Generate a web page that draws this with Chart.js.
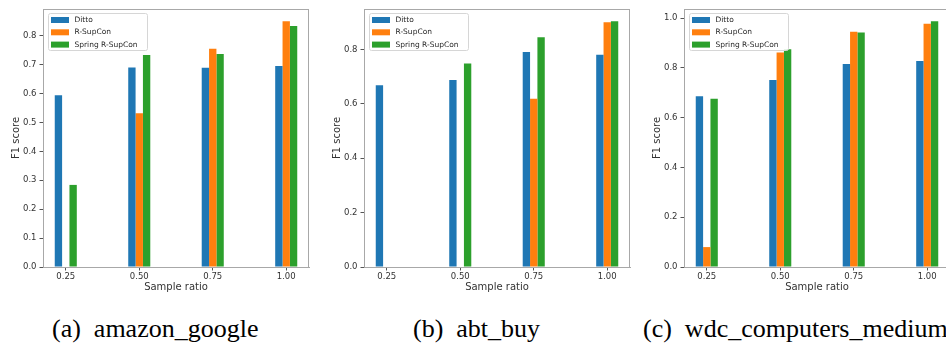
<!DOCTYPE html>
<html>
<head>
<meta charset="utf-8">
<script src="https://cdn.jsdelivr.net/npm/chart.js@4.4.0/dist/chart.umd.min.js"></script>
<style>
  body { margin: 0; width: 946px; height: 345px; overflow: hidden; background: #fff; position: relative; }
  .panel { position: absolute; top: 0; width: 316px; height: 300px; }
  .cap { position: absolute; top: 317px; font-family: "Liberation Serif", serif; font-size: 26px; line-height: 24px; white-space: pre; color: #000; }
</style>
</head>
<body>
<div class="panel" style="left:0px"><canvas id="c1" width="316" height="300"></canvas></div>
<div class="panel" style="left:321px"><canvas id="c2" width="316" height="300"></canvas></div>
<div class="panel" style="left:641px"><canvas id="c3" width="316" height="300"></canvas></div>
<div class="cap" id="t1" style="left:52px"></div>
<div class="cap" id="t2" style="left:413px"></div>
<div class="cap" id="t3" style="left:643px"></div>
<script>
// sample ratios on the x axis
const ratios = [0.25, 0.5, 0.75, 1.0];
const seriesNames = ["Ditto", "R-SupCon", "Spring R-SupCon"];

// (a) amazon_google
const amazonDitto  = [0.594, 0.690, 0.689, 0.695];
const amazonRSup   = [null, 0.532, 0.755, 0.850];
const amazonSpring = [0.284, 0.733, 0.737, 0.834];
// (b) abt_buy
const abtDitto  = [0.668, 0.687, 0.790, 0.780];
const abtRSup   = [null, null, 0.618, 0.899];
const abtSpring = [null, 0.748, 0.844, 0.903];
// (c) wdc_computers_medium
const wdcDitto  = [0.686, 0.751, 0.815, 0.827];
const wdcRSup   = [0.080, 0.862, 0.945, 0.977];
const wdcSpring = [0.676, 0.875, 0.942, 0.987];

// tick labels
const xTicks  = [0.25, 0.5, 0.75, 1.0];
const yTicksA = [0, 0.1, 0.2, 0.3, 0.4, 0.5, 0.6, 0.7, 0.8];
const yTicksB = [0, 0.2, 0.4, 0.6, 0.8];
const yTicksC = [0, 0.2, 0.4, 0.6, 0.8, 1.0];

const captions = ["(a)  amazon_google", "(b)  abt_buy", "(c)  wdc_computers_medium"];

const colors = ["#1f77b4", "#ff7f0e", "#2ca02c"];
const tickFont = { family: "DejaVu Sans", size: 8.5 };
const labelFont = { family: "DejaVu Sans", size: 10 };

// frame around the plot area (matplotlib spines)
const frame = {
  id: "frame",
  afterDraw(chart) {
    const a = chart.chartArea, ctx = chart.ctx;
    ctx.save();
    ctx.strokeStyle = "#a8a8a8";
    ctx.lineWidth = 1;
    ctx.strokeRect(Math.round(a.left) + 0.5, Math.round(a.top) + 0.5,
                   Math.round(a.right - a.left) - 1, Math.round(a.bottom - a.top));
    ctx.restore();
  }
};

// legend box in the upper left corner of the plot
const boxLegend = {
  id: "boxLegend",
  afterDraw(chart) {
    const a = chart.chartArea, ctx = chart.ctx;
    const x = Math.round(a.left) + 5.5, y = Math.round(a.top) + 4.5, w = 99, h = 37;
    ctx.save();
    ctx.fillStyle = "rgba(255,255,255,0.85)";
    ctx.strokeStyle = "#d6d6d6";
    ctx.lineWidth = 1;
    ctx.beginPath();
    ctx.roundRect(x, y, w, h, 2);
    ctx.fill();
    ctx.stroke();
    ctx.font = '7.5px "DejaVu Sans"';
    ctx.textBaseline = "middle";
    chart.data.datasets.forEach((ds, i) => {
      const cy = y + 6.5 + i * 12.3;
      ctx.fillStyle = ds.backgroundColor;
      ctx.fillRect(x + 2.5, cy - 3, 18, 6);
      ctx.fillStyle = "#262626";
      ctx.fillText(ds.label, x + 26, cy);
    });
    ctx.restore();
  }
};

function makeChart(id, series, yTicks) {
  const top = Math.max(...series.flat().filter(v => v !== null)) * 1.05;
  new Chart(document.getElementById(id), {
    type: "bar",
    data: {
      datasets: series.map((vals, i) => ({
        label: seriesNames[i],
        data: ratios.map((r, j) => ({ x: r, y: vals[j] })),
        backgroundColor: colors[i],
        borderWidth: 0,
        categoryPercentage: 0.3,
        barPercentage: 1.0
      }))
    },
    options: {
      responsive: false,
      animation: false,
      layout: { padding: { top: 9, right: 7, bottom: 3, left: 0 } },
      plugins: { legend: { display: false }, tooltip: { enabled: false } },
      scales: {
        x: {
          type: "linear",
          min: 0.1725,
          max: 1.0775,
          offset: false,
          grid: { drawOnChartArea: false, drawTicks: true, tickLength: 3.5, color: "#555", offset: false },
          border: { color: "#a8a8a8" },
          afterBuildTicks: s => { s.ticks = xTicks.map(v => ({ value: v })); },
          afterFit: s => { s.height = 30; },
          ticks: { font: tickFont, color: "#333", padding: 1, maxRotation: 0,
                   callback: v => Number(v).toFixed(2) },
          title: { display: true, text: "Sample ratio", font: labelFont, color: "#333",
                   padding: { top: 0, bottom: 4 } }
        },
        y: {
          min: 0,
          max: top,
          grid: { drawOnChartArea: false, drawTicks: true, tickLength: 3.5, color: "#555" },
          border: { color: "#a8a8a8" },
          afterBuildTicks: s => { s.ticks = yTicks.map(v => ({ value: v })); },
          afterFit: s => { s.width = 43; },
          ticks: { font: tickFont, color: "#333", padding: 3,
                   callback: v => Number(v).toFixed(1) },
          title: { display: true, text: "F1 score", font: labelFont, color: "#333",
                   padding: { top: 10, bottom: 0 } }
        }
      }
    },
    plugins: [frame, boxLegend]
  });
}

makeChart("c1", [amazonDitto, amazonRSup, amazonSpring], yTicksA);
makeChart("c2", [abtDitto, abtRSup, abtSpring], yTicksB);
makeChart("c3", [wdcDitto, wdcRSup, wdcSpring], yTicksC);

captions.forEach((t, i) => { document.getElementById("t" + (i + 1)).textContent = t; });
</script>
</body>
</html>
